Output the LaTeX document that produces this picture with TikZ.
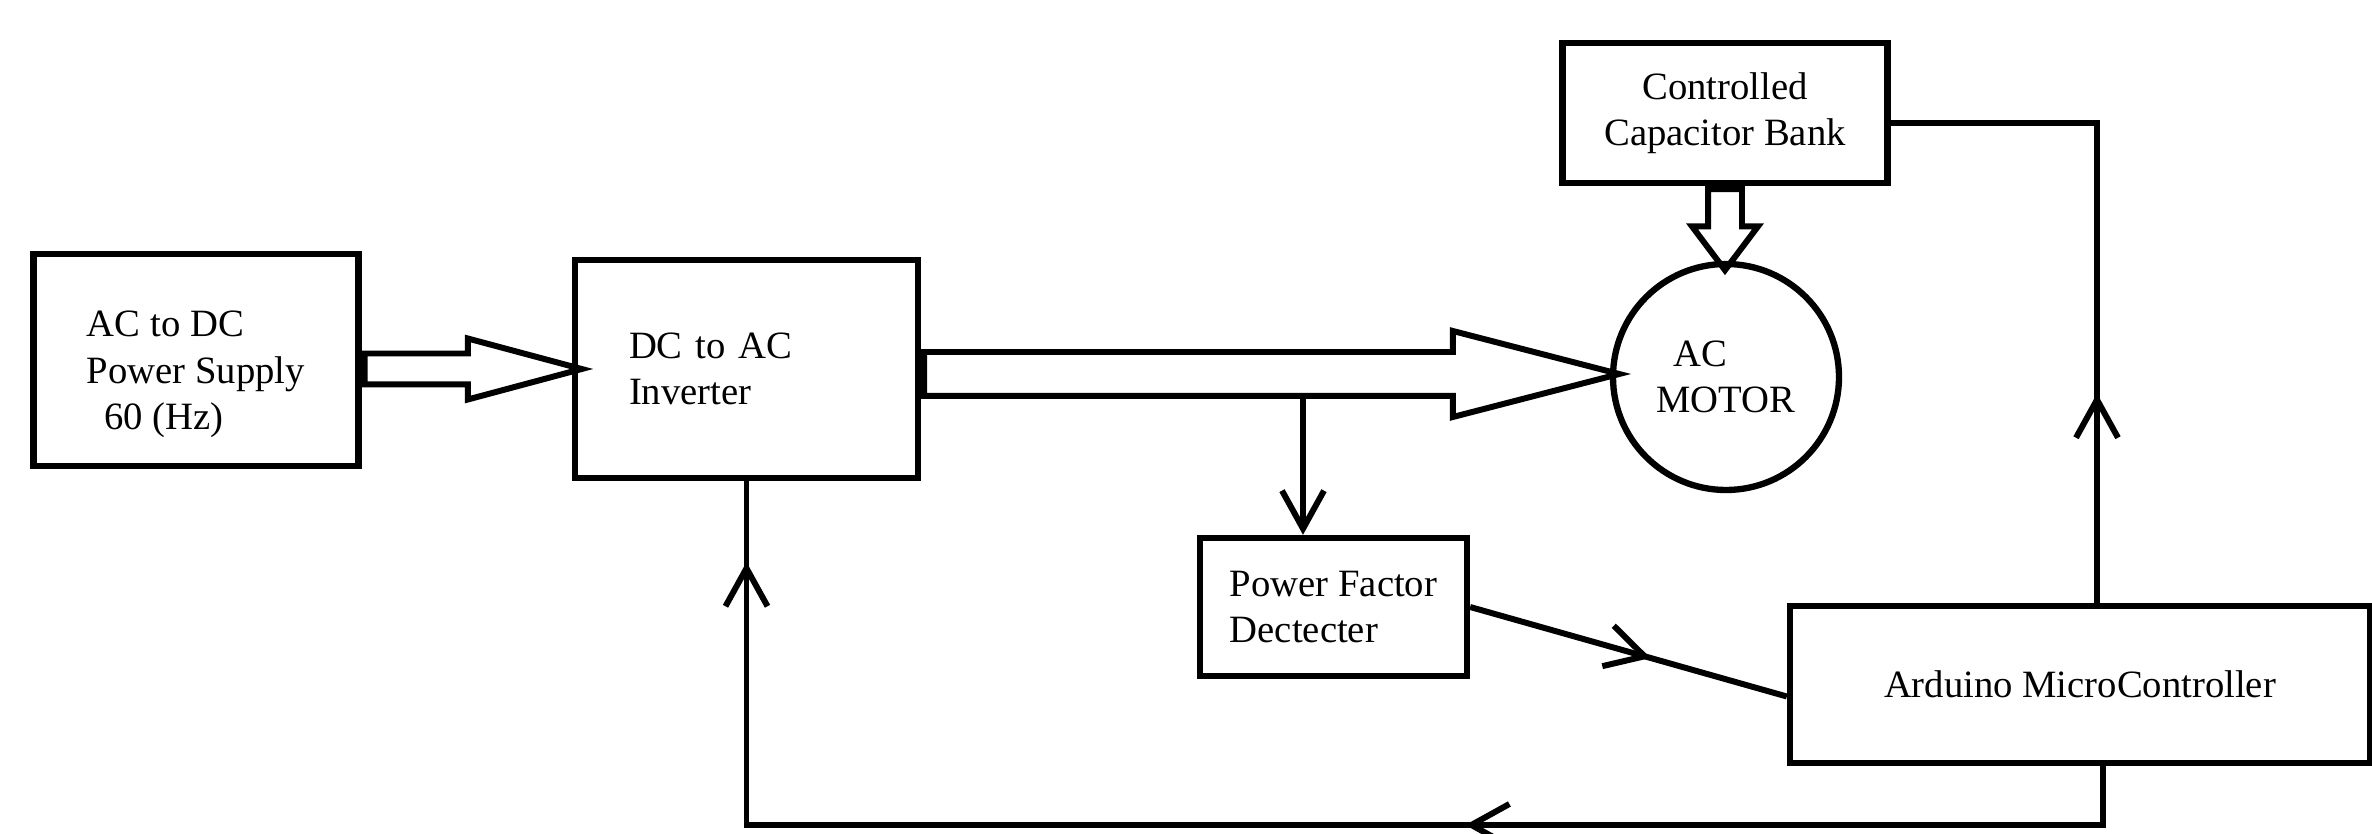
\documentclass[tikz,border=0pt]{standalone}
\usepackage{fontspec}
\setmainfont{Liberation Serif}
\usepackage{tikz}
\usetikzlibrary{shapes.geometric, shapes.arrows, arrows.meta, positioning, decorations.markings}
\tikzset{
    block/.style={rectangle, draw, line width=1.8pt, minimum width=3cm, minimum height=1.4cm, align=left, font=\fontsize{11}{13.2}\selectfont},
    motor/.style={circle, draw, line width=1.8pt, minimum size=2.26cm, align=left, font=\fontsize{11}{13.2}\selectfont},
    sbarb/.tip={Straight Barb[length=0.38cm, width=0.42cm]}
}

\begin{document}
\begin{tikzpicture}[
    bigarrow/.style={single arrow, draw, line width=1.7pt, single arrow head indent=0pt, inner sep=0pt},
    signal/.style={line width=1.7pt},
    midarrow/.style={postaction={decorate, decoration={markings, mark=at position #1 with {\arrow{sbarb}}}}}
]
    \useasboundingbox (0,0) rectangle (23.72,8.34);

    % Main blocks
    \node[block, minimum width=3.25cm, minimum height=2.12cm] (acdc) at (1.96,4.74) {\rule{0pt}{0.55cm}AC to DC\\Power Supply\\\hspace*{0.45em}60 (Hz)};
    \node[block, minimum width=3.43cm, minimum height=2.18cm, text width=2.35cm] (inverter) at (7.465,4.65) {DC to AC\\Inverter};
    \node[block, minimum width=3.25cm, minimum height=1.40cm, align=center] (capbank) at (17.25,7.21) {Controlled\\Capacitor Bank};
    \node[motor] (motor) at (17.26,4.57) {\hspace*{0.45em}AC\\MOTOR};
    \node[block, minimum width=2.67cm, minimum height=1.38cm] (pfd) at (13.335,2.27) {Power Factor\\Dectecter};
    \node[block, minimum width=5.80cm, minimum height=1.57cm] (arduino) at (20.80,1.495) {Arduino MicroController};

    % Power flow (hollow arrows)
    \node[bigarrow, anchor=tail, minimum height=2.17cm, inner ysep=0.125cm, single arrow head extend=0.15cm, single arrow tip angle=30] (feed) at (acdc.east |- inverter.west) {};
    \node[bigarrow, anchor=tail, minimum height=6.95cm, inner ysep=0.19cm, single arrow head extend=0.21cm, single arrow tip angle=29] (drive) at ([yshift=-0.05cm]inverter.east) {};
    \node[bigarrow, anchor=tail, rotate=-90, minimum height=0.81cm, inner ysep=0.14cm, single arrow head extend=0.16cm, single arrow tip angle=74] (comp) at (capbank.south) {};

    % Signal lines
    \coordinate (tap) at (13.03,4.41);
    \draw[signal, -sbarb] (tap) -- (tap |- pfd.north);
    \draw[signal, midarrow=0.57] (pfd.east) -- ([yshift=-0.12cm]arduino.west);
    \draw[signal, midarrow=0.305] ([xshift=0.17cm]arduino.north) |- ([yshift=-0.1cm]capbank.east);

    % Feedback to inverter
    \coordinate (loop) at (inverter.south |- 0,0.09);
    \draw[signal, midarrow=0.396, midarrow=0.954] ([xshift=0.23cm]arduino.south) |- (loop) -- (inverter.south);
\end{tikzpicture}
\end{document}
